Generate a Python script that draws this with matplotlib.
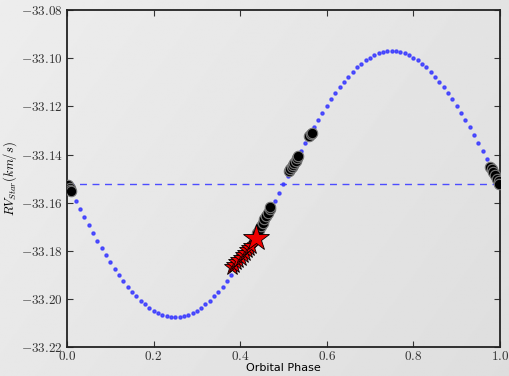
import matplotlib
matplotlib.use("Agg")
import matplotlib.pyplot as plt
import numpy as np

# ---- data ----
model_phase = [k / 100 for k in range(100)]
model_rv = [
    -33.1523, -33.1558, -33.1592, -33.1627, -33.1661, -33.1694, -33.1727, -33.1759, -33.1789, -33.1819,
    -33.1848, -33.1876, -33.1902, -33.1926, -33.1949, -33.1970, -33.1990, -33.2008, -33.2023, -33.2037,
    -33.2049, -33.2059, -33.2066, -33.2072, -33.2075, -33.2076, -33.2075, -33.2072, -33.2066, -33.2059,
    -33.2049, -33.2037, -33.2023, -33.2008, -33.1990, -33.1970, -33.1949, -33.1926, -33.1902, -33.1876,
    -33.1848, -33.1819, -33.1789, -33.1759, -33.1727, -33.1694, -33.1661, -33.1627, -33.1592, -33.1558,
    -33.1523, -33.1488, -33.1454, -33.1419, -33.1386, -33.1352, -33.1319, -33.1287, -33.1257, -33.1227,
    -33.1198, -33.1171, -33.1145, -33.1120, -33.1097, -33.1076, -33.1056, -33.1038, -33.1023, -33.1009,
    -33.0997, -33.0987, -33.0980, -33.0974, -33.0971, -33.0970, -33.0971, -33.0974, -33.0980, -33.0987,
    -33.0997, -33.1009, -33.1023, -33.1038, -33.1056, -33.1076, -33.1097, -33.1120, -33.1145, -33.1171,
    -33.1198, -33.1227, -33.1257, -33.1287, -33.1319, -33.1352, -33.1386, -33.1419, -33.1454, -33.1488,
]
systemic_rv = -33.1523

obs_phase = [0.003, 0.006, 0.008, 0.010,
             0.512, 0.516, 0.519, 0.522, 0.525, 0.528, 0.531, 0.534,
             0.560, 0.563, 0.566,
             0.440, 0.444, 0.448, 0.452, 0.456, 0.460, 0.464, 0.468, 0.470,
             0.977, 0.981, 0.985, 0.989, 0.993, 0.997, 0.999]
obs_rv = [-33.1525, -33.1540, -33.1548, -33.1552,
          -33.1470, -33.1462, -33.1452, -33.1445, -33.1435, -33.1425, -33.1415, -33.1408,
          -33.1322, -33.1315, -33.1310,
          -33.1726, -33.1712, -33.1698, -33.1684, -33.1670, -33.1656, -33.1642, -33.1628, -33.1618,
          -33.1450, -33.1462, -33.1474, -33.1487, -33.1500, -33.1512, -33.1522]

transit_phase = [0.381, 0.386, 0.391, 0.396, 0.401, 0.406, 0.411, 0.416, 0.421, 0.426]
transit_rv = [-33.1868, -33.1858, -33.1848, -33.1838, -33.1828, -33.1818, -33.1808, -33.1798, -33.1790, -33.1780]
big_phase = [0.436]
big_rv = [-33.1747]

xticks = [0.0, 0.2, 0.4, 0.6, 0.8, 1.0]
yticks = [-33.22, -33.20, -33.18, -33.16, -33.14, -33.12, -33.10, -33.08]

# ---- figure ----
plt.rcParams['mathtext.fontset'] = 'cm'
fig = plt.figure(figsize=(5.09, 3.76), dpi=100)

# gradient background
bg = fig.add_axes([0, 0, 1, 1], zorder=-10)
gx = np.linspace(0, 1, 256)
gy = np.linspace(0, 1, 256)
GX, GY = np.meshgrid(gx, gy)
grad = 0.93 - 0.06 * (0.65 * GX + 0.35 * GY)
bg.imshow(grad, cmap='gray', vmin=0, vmax=1, aspect='auto', extent=[0, 1, 0, 1])
bg.axis('off')

ax = fig.add_axes([0.1316, 0.0771, 0.982 - 0.1316, 0.973 - 0.0771])
ax.patch.set_alpha(0)

ax.plot(model_phase, model_rv, ls='none', marker='o', ms=2.2, color='#3a3aff',
        mec='#3a3aff', alpha=0.85, zorder=2)
ax.axhline(systemic_rv, color='#4d4dff', ls=(0, (5, 4)), lw=1.0, zorder=1)
ax.plot(obs_phase, obs_rv, ls='none', marker='o', ms=7.5, mfc='black', mec='#777777',
        mew=0.8, zorder=3)
ax.plot(transit_phase, transit_rv, ls='none', marker='*', ms=12, mfc='#ee0000', mec='black',
        mew=0.6, zorder=4)
ax.plot(big_phase, big_rv, ls='none', marker='*', ms=20, mfc='#ee0000', mec='black',
        mew=0.6, zorder=5)

ax.set_xlim(0, 1)
ax.set_ylim(-33.22, -33.08)
ax.set_xticks(xticks)
ax.set_yticks(yticks)
ax.set_xticklabels([r'$%.1f$' % v for v in xticks])
ax.set_yticklabels([r'$%.2f$' % v for v in yticks])
ax.tick_params(direction='in', length=4, width=0.8, top=True, right=True,
               labelsize=9.5, colors='#333333')
ax.tick_params(axis='x', pad=2)
ax.tick_params(axis='y', pad=3)
for s in ax.spines.values():
    s.set_linewidth(1.3)
    s.set_color('#222222')

ax.set_xlabel('Orbital Phase', fontsize=8, family='DejaVu Sans', labelpad=0.5)
ax.set_ylabel(r'$RV_{Star}(km/s)$', fontsize=9, labelpad=1)

fig.savefig('out.png', dpi=100)
